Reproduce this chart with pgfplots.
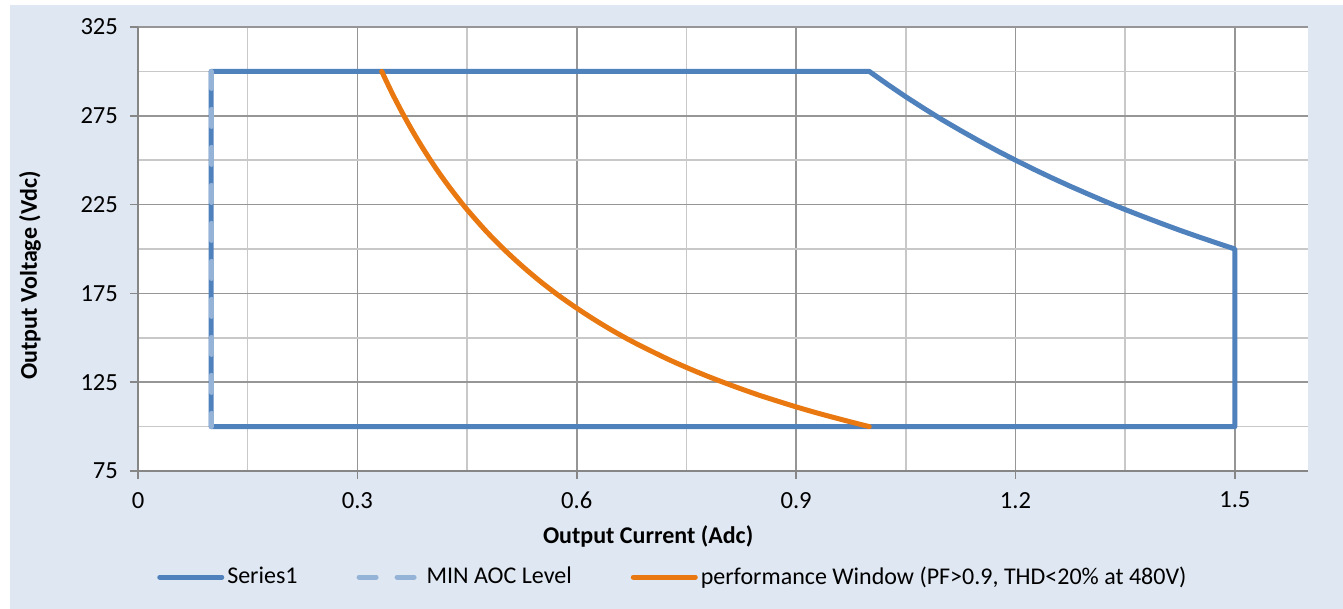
\documentclass[border=0pt]{standalone}
\usepackage{pgfplots}
\pgfplotsset{compat=1.18}
\usepackage{fontspec}
\setmainfont{Carlito}
\definecolor{bg}{HTML}{DFE7F2}
\definecolor{sone}{HTML}{4F81BD}
\definecolor{aoc}{HTML}{95B3D7}
\definecolor{perf}{HTML}{E8780F}
\definecolor{gridmajor}{HTML}{969696}
\definecolor{gridminor}{HTML}{C8C8C8}
\definecolor{axisgray}{HTML}{868686}
\begin{document}
\begin{tikzpicture}
\fill[white] (-69pt,-69pt) rectangle (602.5pt,235.5pt);
\fill[bg] (-64pt,-69pt) rectangle (602.5pt,233pt);
\begin{axis}[
  at={(0,0)}, anchor=south west, scale only axis,
  width=585pt, height=222pt,
  xmin=0, xmax=1.6, ymin=75, ymax=325,
  axis background/.style={fill=white},
  axis x line=bottom, axis y line=left,
  axis line style={draw=axisgray, line width=0.8pt, -},
  grid=both,
  major grid style={draw=gridmajor, line width=0.8pt},
  minor grid style={draw=gridminor, line width=0.8pt},
  xtick={0,0.3,0.6,0.9,1.2,1.5},
  xticklabels={0,0.3,0.6,0.9,1.2,1.5},
  minor xtick={0.15,0.45,0.75,1.05,1.35},
  ytick={75,125,175,225,275,325},
  yticklabels={75,125,175,225,275,325},
  minor ytick={100,150,200,250,300},
  tick align=outside, major tick length=4pt, minor tick length=0pt,
  tick style={draw=axisgray, line width=0.8pt},
  ticklabel style={font=\fontsize{12.3}{14}\selectfont, text=black},
  xticklabel style={yshift=-3pt},
  yticklabel style={xshift=-2.5pt},
  xlabel={\textbf{Output Current (Adc)}},
  ylabel={\textbf{Output Voltage (Vdc)}},
  label style={font=\fontsize{12}{14}\selectfont},
  xlabel style={at={(axis description cs:0.436,-0.1464)}, anchor=center},
  ylabel style={at={(axis description cs:-0.0923,0.44)}, anchor=center},
  legend columns=3,
  legend style={at={(axis description cs:0.011,-0.239)}, anchor=west,
    draw=none, fill=none, font=\fontsize{12}{14}\selectfont,
    /tikz/every even column/.append style={column sep=28pt},
    nodes={inner sep=1.5pt}},
  legend image code/.code={\draw[#1] (0pt,0pt) -- (31pt,0pt);},
]
\addplot[sone, line width=2.5pt, line join=round, line cap=round] coordinates {
 (0.1,100) (0.1,300) (1.0,300) (1.025,292.7) (1.05,285.7) (1.075,279.1) (1.1,272.7)
 (1.125,266.7) (1.15,260.9) (1.175,255.3) (1.2,250) (1.225,244.9)
 (1.25,240) (1.275,235.3) (1.3,230.8) (1.325,226.4) (1.35,222.2) (1.375,218.2)
 (1.4,214.3) (1.425,210.5) (1.45,206.9) (1.475,203.4) (1.5,200)
 (1.5,100) (0.1,100)};
\addlegendentry{Series1}
\addplot[aoc, line width=2.5pt, line cap=round, dash pattern=on 8.5pt off 10.5pt] coordinates {
 (0.1,300) (0.1,100)};
\addlegendentry{MIN AOC Level}
\addplot[perf, line width=2.5pt, line join=round, line cap=round, smooth] coordinates {
 (0.3333,300) (0.3425,292) (0.35,285.7) (0.3625,275.9) (0.375,266.7) (0.3875,258.1)
 (0.4,250) (0.4125,242.4) (0.425,235.3) (0.4375,228.6) (0.45,222.2) (0.475,210.5)
 (0.5,200) (0.525,190.5) (0.55,181.8) (0.575,173.9) (0.6,166.7) (0.625,160)
 (0.65,153.8) (0.675,148.1) (0.7,142.9) (0.725,137.9) (0.75,133.3) (0.775,129)
 (0.8,125) (0.825,121.2) (0.85,117.6) (0.875,114.3) (0.9,111.1) (0.925,108.1)
 (0.95,105.3) (0.975,102.6) (1.0,100)};
\addlegendentry{performance Window (PF>0.9, THD<20\% at 480V)}
\end{axis}
\end{tikzpicture}
\end{document}
